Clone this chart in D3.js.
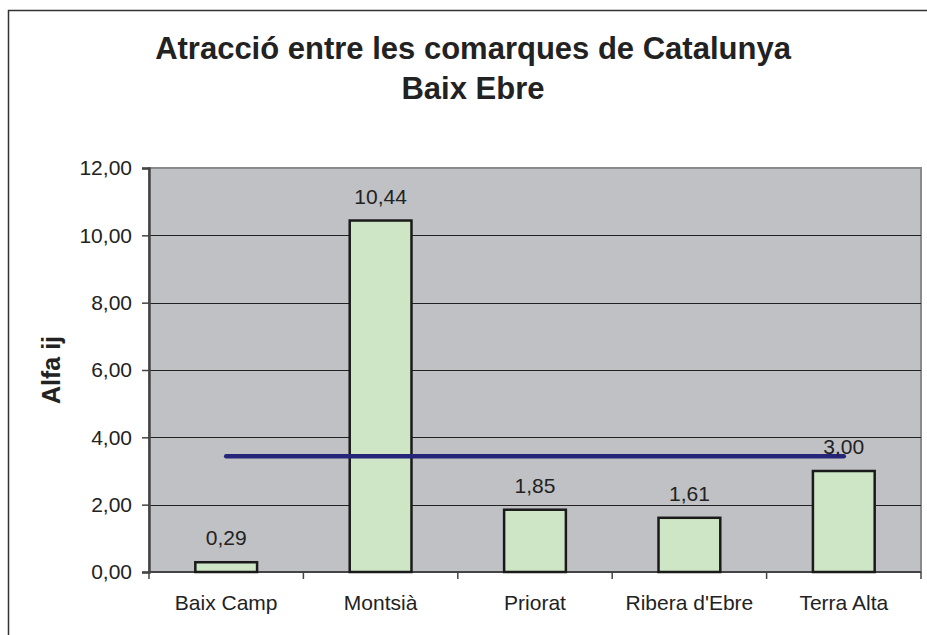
<!DOCTYPE html>
<html>
<head>
<meta charset="utf-8">
<script src="https://cdn.jsdelivr.net/npm/d3@7"></script>
<style>
  body { margin: 0; background: #fff; }
  svg { display: block; font-family: Arial, "Liberation Sans", sans-serif; }
</style>
</head>
<body>
<div class="chart"></div>
<script>
// data
var comarques = ['Baix Camp', 'Montsià', 'Priorat', "Ribera d'Ebre", 'Terra Alta']
var alfa = [0.29, 10.44, 1.85, 1.61, 3.00]
var mitjana = [3.44, 3.44, 3.44, 3.44, 3.44]
var yTicks = [0, 2, 4, 6, 8, 10, 12]
var titleLines = ['Atracció entre les comarques de Catalunya', 'Baix Ebre']

var width = 927
var height = 635
var plot = { left: 149, right: 921, top: 168, bottom: 572 }

var fmt = v => d3.format('.2f')(v).replace('.', ',')

var svg = d3.select('.chart').append('svg')
  .attr('width', width)
  .attr('height', height)

// outer chart frame
svg.append('rect')
  .attr('x', 8.5).attr('y', 10.5)
  .attr('width', 1000).attr('height', 800)
  .attr('fill', '#fff')
  .attr('stroke', '#333')
  .attr('stroke-width', 1.5)

// title
svg.append('g').selectAll('text')
  .data(titleLines)
  .join('text')
  .attr('x', 473)
  .attr('y', (d, i) => 59 + i * 40)
  .attr('text-anchor', 'middle')
  .attr('font-size', 31)
  .attr('font-weight', 'bold')
  .attr('fill', '#222')
  .text(d => d)

var x = d3.scaleBand()
  .domain(comarques)
  .range([plot.left, plot.right])

var y = d3.scaleLinear()
  .domain([0, 12])
  .range([plot.bottom, plot.top])

// plot area
svg.append('rect')
  .attr('x', plot.left).attr('y', plot.top)
  .attr('width', plot.right - plot.left)
  .attr('height', plot.bottom - plot.top)
  .attr('fill', '#c0c1c5')
  .attr('stroke', '#8a8a8a')
  .attr('stroke-width', 2)

// gridlines
svg.append('g').selectAll('line')
  .data(yTicks.filter(d => d > 0 && d < 12))
  .join('line')
  .attr('x1', plot.left).attr('x2', plot.right)
  .attr('y1', d => Math.round(y(d)) + 0.5)
  .attr('y2', d => Math.round(y(d)) + 0.5)
  .attr('stroke', '#222')
  .attr('stroke-width', 1)

// y axis
var yAxis = svg.append('g')
  .attr('transform', 'translate(' + plot.left + ',0)')
  .call(d3.axisLeft(y).tickValues(yTicks).tickFormat(fmt).tickSize(7).tickPadding(10))
yAxis.select('.domain').attr('stroke', '#444').attr('stroke-width', 2.5)
yAxis.selectAll('.tick line').attr('stroke', '#444').attr('stroke-width', 1.5)
yAxis.selectAll('.tick text')
  .attr('font-size', 21)
  .attr('font-family', 'Arial, "Liberation Sans", sans-serif')
  .attr('fill', '#222')

// x axis (ticks between categories)
var xAxis = svg.append('g')
  .attr('transform', 'translate(0,' + plot.bottom + ')')
xAxis.append('line')
  .attr('x1', plot.left).attr('x2', plot.right)
  .attr('stroke', '#444').attr('stroke-width', 2)
xAxis.selectAll('line.tk')
  .data(comarques.concat(['end']))
  .join('line')
  .attr('class', 'tk')
  .attr('x1', (d, i) => i < comarques.length ? x(d) : plot.right)
  .attr('x2', (d, i) => i < comarques.length ? x(d) : plot.right)
  .attr('y1', 0).attr('y2', 7)
  .attr('stroke', '#444').attr('stroke-width', 1.5)
xAxis.selectAll('text')
  .data(comarques)
  .join('text')
  .attr('x', d => x(d) + x.bandwidth() / 2)
  .attr('y', 38)
  .attr('text-anchor', 'middle')
  .attr('font-size', 21)
  .attr('fill', '#222')
  .text(d => d)

// axis title
svg.append('text')
  .attr('transform', 'translate(60,' + (plot.top + plot.bottom) / 2 + ') rotate(-90)')
  .attr('text-anchor', 'middle')
  .attr('font-size', 25)
  .attr('font-weight', 'bold')
  .attr('fill', '#222')
  .text('Alfa ij')

// bars
var barW = x.bandwidth() * 0.4
svg.append('g').selectAll('rect')
  .data(alfa)
  .join('rect')
  .attr('x', (d, i) => x(comarques[i]) + (x.bandwidth() - barW) / 2)
  .attr('y', d => y(d))
  .attr('width', barW)
  .attr('height', d => y(0) - y(d))
  .attr('fill', '#cfe6c6')
  .attr('stroke', '#1a1a1a')
  .attr('stroke-width', 2.5)

// average line
var line = d3.line()
  .x((d, i) => x(comarques[i]) + x.bandwidth() / 2)
  .y(d => y(d))
svg.append('path')
  .datum(mitjana)
  .attr('d', line)
  .attr('fill', 'none')
  .attr('stroke', '#25257a')
  .attr('stroke-width', 4.5)
  .attr('stroke-linecap', 'round')

// value labels
svg.append('g').selectAll('text')
  .data(alfa)
  .join('text')
  .attr('x', (d, i) => x(comarques[i]) + x.bandwidth() / 2)
  .attr('y', d => y(d) - 17)
  .attr('text-anchor', 'middle')
  .attr('font-size', 21)
  .attr('fill', '#222')
  .text(fmt)
</script>
</body>
</html>
